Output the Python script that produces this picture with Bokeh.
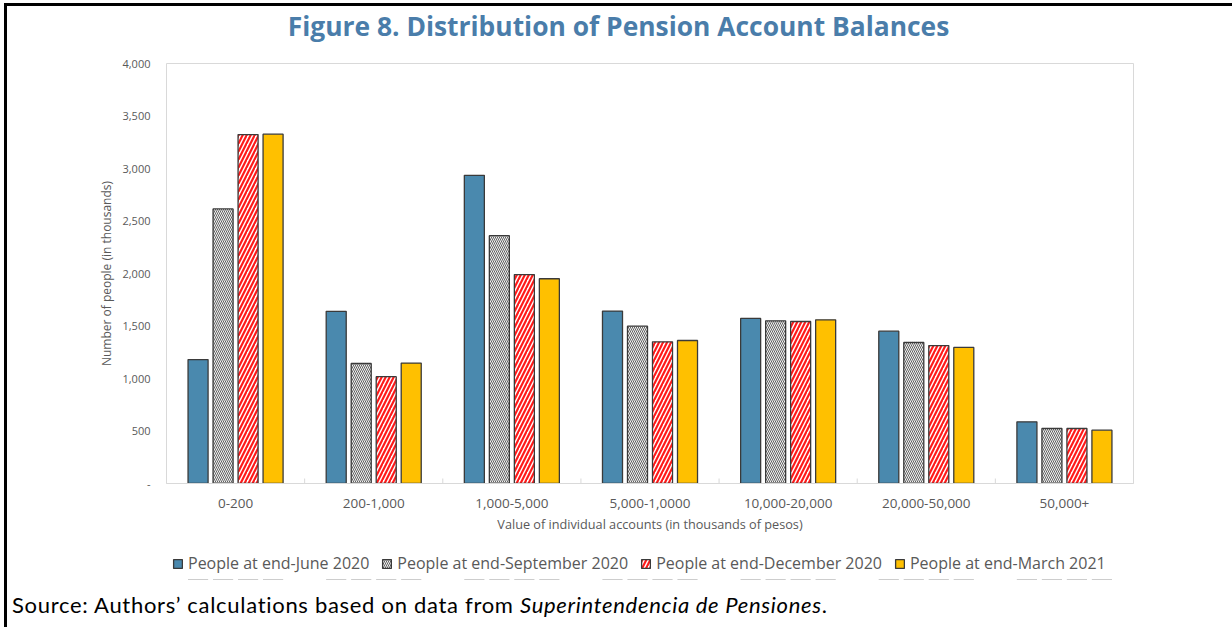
from bokeh.plotting import figure
from bokeh.layouts import column
from bokeh.models import (FactorRange, Range1d, CategoricalAxis, FixedTicker,
                          NumeralTickFormatter, Legend, LegendItem, ColumnDataSource, Div)
from bokeh.transform import dodge
from bokeh.embed import file_html
from bokeh.resources import INLINE

# ---------------- data ----------------
categories = ["0-200", "200-1,000", "1,000-5,000", "5,000-1,0000",
              "10,000-20,000", "20,000-50,000", "50,000+"]
series_names = ["People at end-June 2020", "People at end-September 2020",
                "People at end-December 2020", "People at end-March 2021"]
june_2020 = [1180, 1640, 2935, 1642, 1572, 1451, 587]
sept_2020 = [2615, 1143, 2360, 1498, 1549, 1343, 524]
dec_2020 = [3323, 1017, 1990, 1349, 1543, 1314, 524]
mar_2021 = [3327, 1147, 1950, 1362, 1559, 1296, 508]
y_ticks = [0, 500, 1000, 1500, 2000, 2500, 3000, 3500, 4000]

title_text = "Figure 8. Distribution of Pension Account Balances"
y_label = "Number of people (in thousands)"
x_label = "Value of individual accounts (in thousands of pesos)"
source_normal = "Source: Authors\u2019 calculations based on data from"
source_italic = "Superintendencia de Pensiones"

FONT = "Open Sans"
TXT = "#595959"
CW = 1221          # inner content width
Y_MAX = 4000

# title
title_div = Div(text=title_text, width=CW, height=40,
                styles={"font-family": FONT, "font-size": "26.4px", "font-weight": "bold",
                        "color": "#4A7DAA", "text-align": "center", "white-space": "nowrap",
                        "line-height": "30px", "padding-top": "0px", "padding-right": "8px"})

p = figure(width=CW, height=480, x_range=FactorRange(*categories, range_padding=0),
           y_range=Range1d(0, Y_MAX), x_axis_location=None, title=None,
           output_backend="svg", toolbar_location=None,
           min_border_left=159, min_border_right=95, min_border_top=7, min_border_bottom=53,
           background_fill_color="white", border_fill_color="white")
p.xgrid.visible = False
p.ygrid.visible = False
p.outline_line_color = "#d9d9d9"
p.outline_line_width = 1

# y axis
ya = p.yaxis[0]
ya.ticker = FixedTicker(ticks=y_ticks)
ya.formatter = NumeralTickFormatter(format="0,0")
ya.major_label_overrides = {0: "-"}
ya.axis_line_color = None
ya.major_tick_line_color = None
ya.minor_tick_line_color = None
ya.major_label_text_font = FONT
ya.major_label_text_font_size = "11px"
ya.major_label_text_color = TXT
ya.major_label_standoff = 10
ya.axis_label = y_label
ya.axis_label_text_font = FONT
ya.axis_label_text_font_size = "12px"
ya.axis_label_text_font_style = "normal"
ya.axis_label_text_color = TXT
ya.axis_label_standoff = 4

# x axis
cat_axis = CategoricalAxis(axis_line_color="#d9d9d9", major_tick_line_color=None,
                           minor_tick_line_color=None,
                           major_label_text_font=FONT, major_label_text_font_size="13.5px",
                           major_label_text_color=TXT, major_label_standoff=9,
                           axis_label=x_label, axis_label_text_font=FONT,
                           axis_label_text_font_size="12.7px", axis_label_text_font_style="normal",
                           axis_label_text_color=TXT, axis_label_standoff=4)
p.add_layout(cat_axis, "below")

# small inward tick marks at the category boundaries (synthetic factor coordinates)
n = len(categories)
tick_len = Y_MAX * 5 / 420
p.segment(x0=list(range(1, n)), x1=list(range(1, n)), y0=[0] * (n - 1),
          y1=[tick_len] * (n - 1), line_color="#d9d9d9", line_width=1)

# bars
styles = [
    dict(fill_color="#4A89AE"),
    dict(fill_color="#f2f2f2", hatch_pattern="\\", hatch_color="#505050",
         hatch_scale=4, hatch_weight=0.9),
    dict(fill_color="white", hatch_pattern="/", hatch_color="#ff1a1a",
         hatch_scale=8, hatch_weight=2.2),
    dict(fill_color="#FFC000"),
]
bar_line = dict(line_color="#3a3a3a", line_width=1.3)
series = [june_2020, sept_2020, dec_2020, mar_2021]
pitch = 0.181
offsets = [(i - 1.5) * pitch for i in range(4)]
sources = []
for i, vals in enumerate(series):
    src = ColumnDataSource(dict(cat=categories, v=vals))
    sources.append(src)
    p.vbar(x=dodge("cat", offsets[i], range=p.x_range), top="v", width=0.145,
           source=src, **bar_line, **styles[i])

# legend strip: a small figure (its frame aligns with the chart's frame); the same
# bar series are drawn there far outside its visible y range so only the legend shows
leg_fig = figure(width=CW, height=44, x_range=p.x_range, y_range=Range1d(100000, 100001),
                 x_axis_location=None, y_axis_location=None, output_backend="svg",
                 toolbar_location=None, min_border=0, outline_line_color=None,
                 background_fill_color="white", border_fill_color="white")
leg_fig.xgrid.visible = False
leg_fig.ygrid.visible = False
items = []
for i, name in enumerate(series_names):
    r = leg_fig.vbar(x=dodge("cat", offsets[i], range=p.x_range), top="v", width=0.145,
                     source=sources[i], **bar_line, **styles[i])
    items.append(LegendItem(label=name, renderers=[r]))
legend = Legend(items=items, orientation="horizontal", location=(6, 6),
                label_text_font=FONT, label_text_font_size="16px", label_text_color=TXT,
                glyph_width=11, glyph_height=11, label_standoff=5, spacing=12,
                padding=2, margin=0, border_line_color=None, background_fill_alpha=0,
                label_height=16)
leg_fig.add_layout(legend, "center")

# source note
src_div = Div(text=f"{source_normal} <i>{source_italic}</i>.", width=CW, height=40,
              styles={"font-family": "Lato", "font-size": "22px", "color": "black",
                      "letter-spacing": "0.7px", "white-space": "nowrap",
                      "padding-top": "9px", "padding-left": "0px", "line-height": "22px"})

layout = column(title_div, p, leg_fig, src_div, spacing=0,
                styles={"border-left": "3px solid black", "border-top": "3px solid black",
                        "border-right": "3px solid black", "margin-left": "4px",
                        "margin-top": "3px", "background": "white"})

open("out.html", "w").write(file_html(layout, INLINE))
